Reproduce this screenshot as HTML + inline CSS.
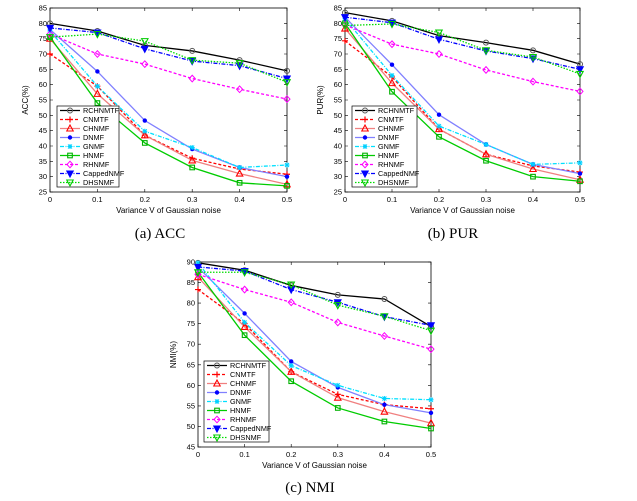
<!DOCTYPE html>
<html><head><meta charset="utf-8"><style>
body{margin:0;background:#fff;}
svg{display:block;font-family:"Liberation Sans",sans-serif;}
.cap{font-family:"Liberation Serif",serif;font-size:15px;}
</style></head><body>
<svg id="fig" width="637" height="501" viewBox="0 0 637 501"></svg>
<script>
const xVals=[0,0.1,0.2,0.3,0.4,0.5];
const xTicks=["0","0.1","0.2","0.3","0.4","0.5"];
const seriesNames=["RCHNMTF","CNMTF","CHNMF","DNMF","GNMF","HNMF","RHNMF","CappedNMF","DHSNMF"];
const accRCHNMTF=[80,77.5,72.8,71,68,64.5];
const accCNMTF=[70,59.5,43.5,36,32.5,30.8];
const accCHNMF=[75,57,43.5,35.3,31,27.5];
const accDNMF=[78,64.3,48.3,39,33,30];
const accGNMF=[77.5,59.5,44.8,39.5,33,33.8];
const accHNMF=[75.5,54,41,33,28,27];
const accRHNMF=[76.5,70,66.7,62,58.5,55.3];
const accCapped=[78.5,77,71.7,67.7,66.2,62];
const accDHSNMF=[75.5,76.5,74.2,68,67,60.8];
const purRCHNMTF=[83.5,80.8,76,73.7,71.2,66.7];
const purCNMTF=[74.3,62.5,45.5,37.3,33.5,31.5];
const purCHNMF=[78.3,60.5,45.5,37.3,32.5,29];
const purDNMF=[82,66.5,50.2,40.5,34,31];
const purGNMF=[81.5,63,46.5,40.5,34,34.5];
const purHNMF=[80,57.7,43,35.2,30,28.5];
const purRHNMF=[79.5,73.2,70,64.8,61,57.8];
const purCapped=[82,80.2,74.8,71,68.5,65];
const purDHSNMF=[79.3,79.8,77,71.2,69,63.5];
const nmiRCHNMTF=[89.8,88,84.3,82,81,74.3];
const nmiCNMTF=[83.3,75,63.3,57.8,55.3,54.3];
const nmiCHNMF=[86.3,74.2,63.3,57,53.6,50.8];
const nmiDNMF=[88.7,77.5,65.8,59.5,55.3,53.3];
const nmiGNMF=[89.8,75.3,64.8,60,56.8,56.5];
const nmiHNMF=[87.5,72.2,61,54.5,51.2,49.5];
const nmiRHNMF=[87,83.3,80.2,75.3,72,68.8];
const nmiCapped=[88.8,87.8,83.3,80.2,76.7,74.6];
const nmiDHSNMF=[87.5,87.5,84.5,79.5,76.8,73.3];
const accTicks=[25,30,35,40,45,50,55,60,65,70,75,80,85];
const purTicks=[25,30,35,40,45,50,55,60,65,70,75,80,85];
const nmiTicks=[45,50,55,60,65,70,75,80,85,90];

const styles=[
 {c:"#000",dash:"",m:"circle",fill:"none",mc:"#555"},
 {c:"#ff0000",dash:"3,2",m:"plus",fill:"none",mc:"#ff0000"},
 {c:"#f08080",dash:"",m:"tri",fill:"none",mc:"#ff0000"},
 {c:"#8080ff",dash:"",m:"dot",fill:"#0000ff",mc:"#0000ff"},
 {c:"#00e0ff",dash:"4,1.5,1,1.5",m:"star",fill:"none",mc:"#00d0ff"},
 {c:"#00cc00",dash:"",m:"sq",fill:"none",mc:"#00b000"},
 {c:"#ff00ff",dash:"3,2",m:"dia",fill:"none",mc:"#ff00ff"},
 {c:"#0000ff",dash:"4,1.5,1,1.5",m:"vtri",fill:"#0000ff",mc:"#0000ff"},
 {c:"#00dd00",dash:"1.5,1.5",m:"vtri",fill:"none",mc:"#00cc00"}
];
const NS="http://www.w3.org/2000/svg";
const svg=document.getElementById('fig');
function mk(tag,attrs,parent){const e=document.createElementNS(NS,tag);for(const k in attrs)e.setAttribute(k,attrs[k]);(parent||svg).appendChild(e);return e;}
function marker(g,type,x,y,s){
 let e;
 if(type==="circle")e=mk('circle',{cx:x,cy:y,r:2.5,fill:"none",stroke:s.mc,'stroke-width':1},g);
 else if(type==="dot")e=mk('circle',{cx:x,cy:y,r:2.2,fill:s.mc},g);
 else if(type==="plus")e=mk('path',{d:`M${x-3},${y}h6M${x},${y-3}v6`,stroke:s.mc,'stroke-width':1.2},g);
 else if(type==="star")e=mk('path',{d:`M${x-2.5},${y}h5M${x},${y-2.5}v5M${x-2},${y-2}l4,4M${x-2},${y+2}l4,-4`,stroke:s.mc,'stroke-width':1},g);
 else if(type==="tri")e=mk('path',{d:`M${x},${y-3.5}L${x+3.2},${y+2.5}L${x-3.2},${y+2.5}Z`,fill:"none",stroke:s.mc,'stroke-width':1.1},g);
 else if(type==="vtri")e=mk('path',{d:`M${x},${y+3.5}L${x+3.2},${y-2.5}L${x-3.2},${y-2.5}Z`,fill:s.fill,stroke:s.mc,'stroke-width':1.1},g);
 else if(type==="sq")e=mk('rect',{x:x-2.3,y:y-2.3,width:4.6,height:4.6,fill:"none",stroke:s.mc,'stroke-width':1.1},g);
 else if(type==="dia")e=mk('path',{d:`M${x},${y-3.3}L${x+3},${y}L${x},${y+3.3}L${x-3},${y}Z`,fill:"none",stroke:s.mc,'stroke-width':1},g);
 
 
}
function chart(id,L,R,T,B,ymin,ymax,ticks,ylab,data,legend,cap){
 const g=mk('g',{});
 
 
 const xs=v=>L+(v-0)/(0.5)*(R-L);
 const ys=v=>B-(v-ymin)/(ymax-ymin)*(B-T);
 const frame=mk('rect',{x:L,y:T,width:R-L,height:B-T,fill:"#fff",stroke:"#000",'stroke-width':0.8},g);
 
 
 ticks.forEach(t=>{const y=ys(t);
  mk('path',{d:`M${L},${y}h3M${R},${y}h-3`,stroke:"#000",'stroke-width':0.6},g);
  const tx=mk('text',{x:L-3,y:y+2.5,'font-size':7.5,'text-anchor':'end'},g);tx.textContent=t;
  
  
 });
 xVals.forEach((v,i)=>{const x=xs(v);
  mk('path',{d:`M${x},${B}v-3M${x},${T}v3`,stroke:"#000",'stroke-width':0.6},g);
  const tx=mk('text',{x:x,y:B+10,'font-size':7.5,'text-anchor':'middle'},g);tx.textContent=xTicks[i];
  
  
 });
 const xl=mk('text',{x:(L+R)/2,y:B+21,'font-size':8,'text-anchor':'middle'},g);xl.textContent="Variance V of Gaussian noise";
 
 
 const cy=(T+B)/2;
 const yl=mk('text',{x:L-22,y:cy,'font-size':8,'text-anchor':'middle',transform:`rotate(-90 ${L-22} ${cy})`},g);yl.textContent=ylab;
 
 
 data.forEach((arr,si)=>{const s=styles[si];
  const d=arr.map((v,i)=>(i?'L':'M')+xs(xVals[i])+','+ys(v)).join('');
  const p=mk('path',{d:d,fill:"none",stroke:s.c,'stroke-width':1.3,'stroke-dasharray':s.dash},g);
  
  
  arr.forEach((v,i)=>marker(g,s.m,xs(xVals[i]),ys(v),s));
 });
 const [lx,ly,lw,lh]=legend;
 const lg=mk('g',{},g);
 
 
 mk('rect',{x:lx,y:ly,width:lw,height:lh,fill:"#fff",stroke:"#000",'stroke-width':0.7},lg);
 const step=lh/9;
 seriesNames.forEach((n,si)=>{const s=styles[si];const y=ly+step*(si+0.5);
  mk('path',{d:`M${lx+3},${y}h20`,stroke:s.c,'stroke-width':1.3,'stroke-dasharray':s.dash},lg);
  marker(lg,s.m,lx+13,y,s);
  const t=mk('text',{x:lx+26,y:y+2.6,'font-size':7.3},lg);t.textContent=n;
  
  
 });
 const c=mk('text',{x:cap[0],y:cap[1],'text-anchor':'middle',class:'cap'},g);c.textContent=cap[2];
 
 
}
chart('acc',50,287,8,192,25,85,accTicks,'ACC(%)',
 [accRCHNMTF,accCNMTF,accCHNMF,accDNMF,accGNMF,accHNMF,accRHNMF,accCapped,accDHSNMF],
 [57,106,62,81],[160,238,'(a)  ACC']);
chart('pur',345,580,8,192,25,85,purTicks,'PUR(%)',
 [purRCHNMTF,purCNMTF,purCHNMF,purDNMF,purGNMF,purHNMF,purRHNMF,purCapped,purDHSNMF],
 [352,106,65,81],[453,238,'(b)  PUR']);
chart('nmi',198,431,262,447,45,90,nmiTicks,'NMI(%)',
 [nmiRCHNMTF,nmiCNMTF,nmiCHNMF,nmiDNMF,nmiGNMF,nmiHNMF,nmiRHNMF,nmiCapped,nmiDHSNMF],
 [204,361,65,81],[310,492,'(c)  NMI']);
</script>
</body></html>
